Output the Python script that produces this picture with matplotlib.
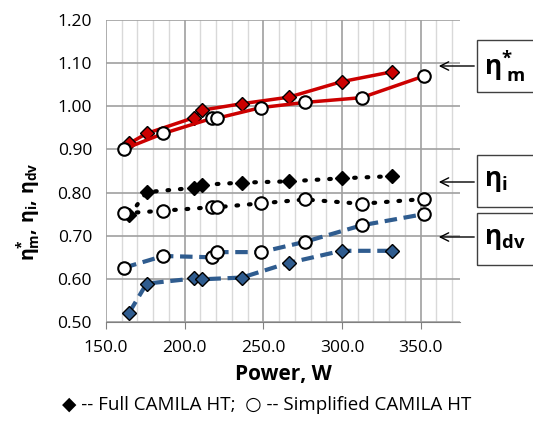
import matplotlib.pyplot as plt
from matplotlib.ticker import MultipleLocator

plt.rcParams['font.family'] = ['Open Sans', 'DejaVu Sans']
plt.rcParams['mathtext.fontset'] = 'custom'
plt.rcParams['mathtext.rm'] = 'Open Sans'
plt.rcParams['mathtext.it'] = 'Open Sans:italic'
plt.rcParams['mathtext.bf'] = 'Open Sans:bold'

# Full CAMILA HT (diamonds)
p_full = [164.8, 175.8, 206.1, 211.0, 236.4, 266.0, 299.7, 331.9]
etam_full = [0.914, 0.937, 0.974, 0.991, 1.006, 1.021, 1.057, 1.080]
etai_full = [0.747, 0.801, 0.811, 0.818, 0.823, 0.826, 0.833, 0.838]
etadv_full = [0.522, 0.589, 0.601, 0.599, 0.603, 0.637, 0.665, 0.665]

# Simplified CAMILA HT (circles)
p_simp = [161.6, 186.4, 217.3, 220.3, 248.5, 276.6, 312.4, 352.0]
etam_simp = [0.901, 0.937, 0.972, 0.972, 0.997, 1.009, 1.020, 1.070]
etai_simp = [0.752, 0.758, 0.766, 0.766, 0.775, 0.784, 0.774, 0.785]
etadv_simp = [0.626, 0.653, 0.650, 0.662, 0.662, 0.686, 0.724, 0.750]

red = '#CC0000'
blue = '#2F5C8F'

fig = plt.figure(figsize=(5.33, 4.23), dpi=100)
ax = fig.add_axes([106 / 533, 1 - 322 / 423, (460 - 106) / 533, (322 - 20) / 423])

# eta_m*
ax.plot(p_full, etam_full, color=red, lw=2.5, marker='D', ms=7,
        mfc=red, mec='black', mew=1, zorder=3)
ax.plot(p_simp, etam_simp, color=red, lw=2.5, marker='o', ms=9,
        mfc='white', mec='black', mew=1.5, zorder=3)
# eta_i
ax.plot(p_full, etai_full, color='black', lw=3, ls=(0, (0.4, 2.6)),
        dash_capstyle='round', marker='D', ms=7, mfc='black', mec='black', zorder=3)
ax.plot(p_simp, etai_simp, color='black', lw=3, ls=(0, (0.4, 2.6)),
        dash_capstyle='round', marker='o', ms=9, mfc='white', mec='black',
        mew=1.5, zorder=3)
# eta_dv
ax.plot(p_full, etadv_full, color=blue, lw=3, ls=(0, (3, 1.6)),
        marker='D', ms=7, mfc=blue, mec='black', mew=1, zorder=3)
ax.plot(p_simp, etadv_simp, color=blue, lw=3, ls=(0, (3, 1.6)),
        marker='o', ms=9, mfc='white', mec='black', mew=1.5, zorder=3)

ax.set_xlim(150, 375)
ax.set_ylim(0.5, 1.2)
ax.xaxis.set_minor_locator(MultipleLocator(10))
ax.set_xticks([150, 200, 250, 300, 350])
ax.set_xticklabels(['150.0', '200.0', '250.0', '300.0', '350.0'])
ax.set_yticks([0.5, 0.6, 0.7, 0.8, 0.9, 1.0, 1.1, 1.2])
ax.set_yticklabels(['0.50', '0.60', '0.70', '0.80', '0.90', '1.00', '1.10', '1.20'])
ax.grid(which='major', color='#A0A0A0', lw=1.2)
ax.grid(which='minor', axis='x', color='#D9D9D9', lw=1)
ax.set_axisbelow(True)
for s in ['top', 'right', 'left']:
    ax.spines[s].set_visible(False)
ax.spines['bottom'].set_color('#808080')
ax.tick_params(axis='x', which='major', length=5, color='#808080', labelsize=12.5, pad=8)
ax.tick_params(axis='x', which='minor', length=0)
ax.tick_params(axis='y', length=0, labelsize=12.5, pad=10)

ax.set_xlabel('Power, W', fontsize=15, fontweight='bold', labelpad=6)
fig.text(28 / 533, 1 - 212 / 423,
         r'$\mathbf{η}^{\mathbf{*}}_{\mathbf{m}}\mathbf{,}\ \mathbf{η}_{\mathbf{i}}\mathbf{,}\ \mathbf{η}_{\mathbf{dv}}$',
         rotation=90, ha='center', va='center', fontsize=14)

fig.text(0.5, 1 - 405 / 423, '\u25C6 -- Full CAMILA HT;  \u25CB -- Simplified CAMILA HT',
         ha='center', va='center', fontsize=13.5,
         family=['Open Sans', 'DejaVu Sans'])

# labelled boxes with arrows
boxes = [
    (r'$\mathbf{η}^{\mathbf{*}}_{\ \mathbf{m}}$', 40, 92, 66),
    (r'$\mathbf{η}_{\mathbf{i}}$', 155, 207, 182),
    (r'$\mathbf{η}_{\mathbf{dv}}$', 213, 265, 237),
]
for txt, top, bot, ya in boxes:
    x0 = 477 / 533
    y0 = 1 - bot / 423
    h = (bot - top) / 423
    fig.patches.append(plt.Rectangle((x0, y0), 0.2, h, transform=fig.transFigure,
                                     fill=False, ec='#404040', lw=1))
    fig.text(x0 + 7 / 533, y0 + h / 2, txt, fontsize=19, va='center', ha='left')
    ax.annotate('', xy=(436 / 533, 1 - ya / 423), xycoords='figure fraction',
                xytext=(x0, 1 - ya / 423), textcoords='figure fraction',
                arrowprops=dict(arrowstyle='->', color='black', lw=1,
                                mutation_scale=15))

fig.savefig('out.png', dpi=100)
